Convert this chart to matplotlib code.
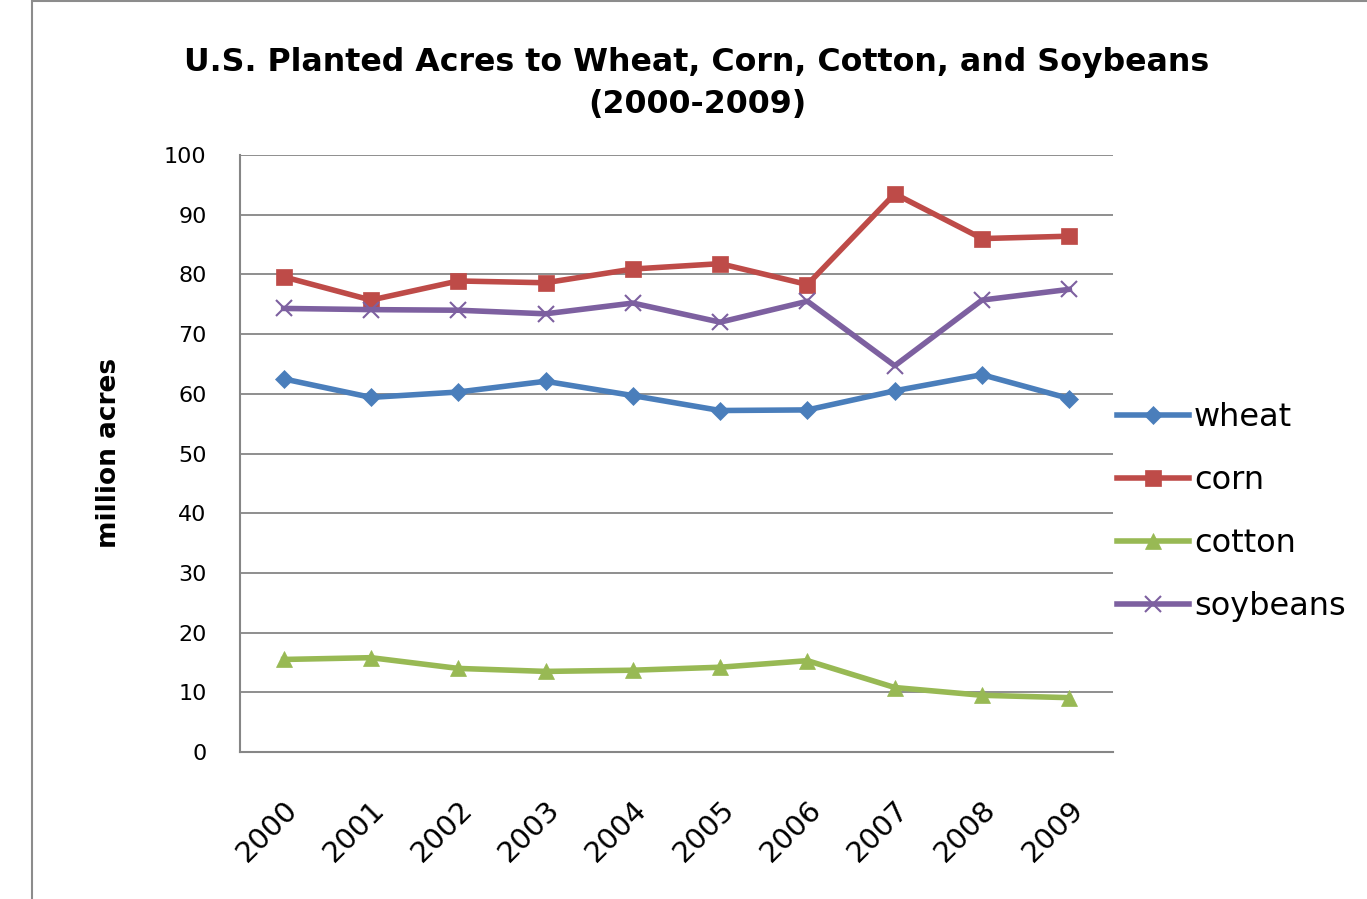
import matplotlib
matplotlib.use("Agg")
import matplotlib.pyplot as plt
from matplotlib.patches import Rectangle

years = ["2000", "2001", "2002", "2003", "2004", "2005", "2006", "2007", "2008", "2009"]
wheat = [62.5, 59.4, 60.3, 62.1, 59.7, 57.2, 57.3, 60.5, 63.2, 59.2]
corn = [79.6, 75.7, 78.9, 78.6, 80.9, 81.8, 78.3, 93.5, 86.0, 86.4]
cotton = [15.5, 15.8, 14.0, 13.5, 13.7, 14.2, 15.3, 10.8, 9.5, 9.1]
soybeans = [74.3, 74.1, 74.0, 73.4, 75.2, 72.0, 75.5, 64.7, 75.7, 77.5]
yticks = [0, 10, 20, 30, 40, 50, 60, 70, 80, 90, 100]

plt.rcParams['font.family'] = ['DejaVu Sans']

W, H = 1367, 899
fig = plt.figure(figsize=(W / 100, H / 100), dpi=100)
fig.patch.set_facecolor('white')

# outer chart frame
fig.patches.append(Rectangle((32 / W, -0.05), 1.1, 1.05 - 1.5 / H, transform=fig.transFigure,
                             fill=False, edgecolor='#8c8c8c', linewidth=1.5))

ax = fig.add_axes([240 / W, 1 - 752 / H, (1113 - 240) / W, (752 - 155) / H])
x = list(range(len(years)))

series = [
    ("wheat", wheat, '#4A7EBB', 'D', 9),
    ("corn", corn, '#BE4B48', 's', 11),
    ("cotton", cotton, '#98B954', '^', 11),
    ("soybeans", soybeans, '#7D60A0', 'x', 11),
]
for name, vals, col, mk, ms in series:
    ax.plot(x, vals, color=col, linewidth=4.0, marker=mk, markersize=ms,
            markeredgewidth=1.5 if mk == 'x' else 0.5, markeredgecolor=col,
            markerfacecolor=col, label=name, solid_joinstyle='round', zorder=3)

ax.set_xlim(-0.5, 9.5)
ax.set_ylim(0, 100)
ax.set_yticks(yticks)
ax.set_yticklabels([str(v) for v in yticks], fontsize=16)
ax.set_xticks(x)
ax.set_xticklabels(years, fontsize=21, rotation=45, ha='right', rotation_mode='anchor')
ax.tick_params(axis='x', length=0, pad=31)
ax.tick_params(axis='y', length=0, pad=24)
ax.grid(axis='y', color='#868686', linewidth=1.3, zorder=0)
for s in ['top', 'right']:
    ax.spines[s].set_visible(False)
for s in ['left', 'bottom']:
    ax.spines[s].set_color('#868686')
    ax.spines[s].set_linewidth(1.5)

ax.set_ylabel("million acres", fontsize=19, fontweight='bold')
ax.yaxis.set_label_coords((122 - 240) / (1113 - 240), (752 - 453) / (752 - 155))

fig.text(697 / W, 1 - 62 / H, "U.S. Planted Acres to Wheat, Corn, Cotton, and Soybeans",
         ha='center', va='center', fontsize=22.8, fontweight='bold')
fig.text(697 / W, 1 - 105 / H, "(2000-2009)", ha='center', va='center',
         fontsize=22.8, fontweight='bold')

leg = ax.legend(loc='center left', bbox_to_anchor=(1117 / W, 1 - 512 / H),
                bbox_transform=fig.transFigure, frameon=False, fontsize=23,
                handlelength=2.26, handletextpad=0.15, labelspacing=1.0,
                borderpad=0, borderaxespad=0)

fig.savefig("out.png", dpi=100, facecolor='white')
